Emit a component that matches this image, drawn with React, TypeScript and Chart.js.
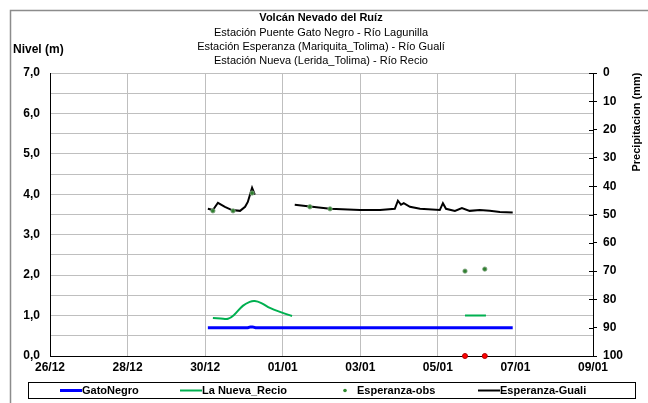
import React, { useEffect, useRef } from "react";
import { Chart, registerables } from "chart.js";

Chart.register(...registerables);

// x values are days counted from 26/12
const xTickLabels = ["26/12", "28/12", "30/12", "01/01", "03/01", "05/01", "07/01", "09/01"];

const gatoNegroX = [4.07, 4.6, 5.1, 5.17, 5.22, 5.3, 6, 7, 8, 9, 10, 11, 11.93];
const gatoNegroY = [0.7, 0.7, 0.7, 0.72, 0.72, 0.7, 0.7, 0.7, 0.7, 0.7, 0.7, 0.7, 0.7];

const nuevaX = [4.2, 4.4, 4.59, 4.75, 4.97, 5.15, 5.28, 5.45, 5.67, 5.93, 6.24, 8.5, 10.7, 11.24];
const nuevaY = [0.94, 0.93, 0.92, 1.02, 1.24, 1.34, 1.36, 1.31, 1.19, 1.09, 0.99, null, 1.0, 1.0];

const obsX = [4.2, 4.72, 5.21, 6.7, 7.22, 10.7, 11.21];
const obsY = [3.59, 3.59, 4.03, 3.69, 3.64, 2.1, 2.15];

const gualiX = [
  4.07, 4.2, 4.33, 4.51, 4.69, 4.9, 5.03, 5.1, 5.21, 5.28, 5.8,
  6.31, 6.7, 7.22, 7.99, 8.51, 8.89, 8.97, 9.05, 9.12, 9.28, 9.54, 10.05, 10.13,
  10.21, 10.44, 10.62, 10.82, 11.08, 11.34, 11.6, 11.93,
];
const gualiY = [
  3.64, 3.61, 3.79, 3.69, 3.61, 3.59, 3.69, 3.81, 4.16, 3.99, null,
  3.74, 3.7, 3.64, 3.61, 3.61, 3.64, 3.84, 3.74, 3.78, 3.69, 3.64, 3.61, 3.78,
  3.64, 3.59, 3.66, 3.59, 3.61, 3.59, 3.56, 3.55,
];

const precipX = [10.7, 11.21];
const precipY = [100, 100];

const titleLines = [
  "Volcán Nevado del Ruíz",
  "Estación Puente Gato Negro - Río Lagunilla",
  "Estación Esperanza (Mariquita_Tolima) - Río Gualí",
  "Estación Nueva (Lerida_Tolima) - Río Recio",
];
const leftTitle = "Nivel (m)";
const rightTitle = "Precipitacion (mm)";
const legendItems = [
  { label: "GatoNegro", color: "#0000ff", kind: "line", x: 60 },
  { label: "La Nueva_Recio", color: "#00b050", kind: "line", x: 180 },
  { label: "Esperanza-obs", color: "#2f8a2f", kind: "dot", x: 337 },
  { label: "Esperanza-Guali", color: "#000000", kind: "line", x: 478 },
];

const FONT = "'Liberation Sans', Arial, sans-serif";

const pts = (xs: number[], ys: (number | null)[]) => xs.map((x, i) => ({ x, y: ys[i] }));

const decor = {
  id: "decor",
  beforeDraw(chart: any) {
    const ctx = chart.ctx;
    ctx.save();
    ctx.fillStyle = "#ffffff";
    ctx.fillRect(0, 0, chart.width, chart.height);
    ctx.restore();
  },
  afterDraw(chart: any) {
    const ctx = chart.ctx;
    const area = chart.chartArea;
    ctx.save();
    // outer border
    ctx.strokeStyle = "#8c8c8c";
    ctx.lineWidth = 1.5;
    ctx.beginPath();
    ctx.moveTo(10.5, chart.height + 2);
    ctx.lineTo(10.5, 10.5);
    ctx.lineTo(chart.width + 2, 10.5);
    ctx.stroke();

    // titles
    ctx.fillStyle = "#000";
    ctx.textAlign = "center";
    ctx.textBaseline = "middle";
    const cx = 321;
    const ys = [18, 33, 47, 61];
    titleLines.forEach((t, i) => {
      ctx.font = (i === 0 ? "bold " : "") + "11px " + FONT;
      ctx.fillText(t, cx, ys[i]);
    });

    ctx.font = "bold 12px " + FONT;
    ctx.textAlign = "left";
    ctx.fillText(leftTitle, 13, 50);

    ctx.save();
    ctx.font = "bold 11px " + FONT;
    ctx.translate(637, 122);
    ctx.rotate(-Math.PI / 2);
    ctx.textAlign = "center";
    ctx.fillText(rightTitle, 0, 0);
    ctx.restore();

    // inward tick marks on the right axis
    const y1 = chart.scales.y1;
    ctx.strokeStyle = "#000";
    ctx.lineWidth = 1;
    y1.ticks.forEach((t: any) => {
      const py = Math.round(y1.getPixelForValue(t.value)) + 0.5;
      ctx.beginPath();
      ctx.moveTo(area.right - 4, py);
      ctx.lineTo(area.right, py);
      ctx.stroke();
    });

    // legend
    ctx.strokeStyle = "#000";
    ctx.lineWidth = 1;
    ctx.strokeRect(28.5, 382.5, 607, 16);
    const ly = 390.5;
    ctx.font = "bold 11px " + FONT;
    ctx.textBaseline = "middle";
    ctx.textAlign = "left";
    legendItems.forEach((it) => {
      if (it.kind === "line") {
        ctx.strokeStyle = it.color;
        ctx.lineWidth = it.label === "GatoNegro" ? 3 : 2;
        ctx.beginPath();
        ctx.moveTo(it.x, ly);
        ctx.lineTo(it.x + 22, ly);
        ctx.stroke();
        ctx.fillStyle = "#000";
        ctx.fillText(it.label, it.x + 22, ly);
      } else {
        ctx.fillStyle = it.color;
        ctx.beginPath();
        ctx.arc(it.x + 8, ly, 1.8, 0, Math.PI * 2);
        ctx.fill();
        ctx.fillStyle = "#000";
        ctx.fillText(it.label, it.x + 20, ly);
      }
    });
    ctx.restore();
  },
};

export default function App() {
  const ref = useRef<HTMLCanvasElement | null>(null);
  useEffect(() => {
    if (!ref.current) return;
    const tickFont = { family: FONT, size: 12, weight: "bold" as const };
    const chart = new Chart(ref.current, {
      type: "line",
      data: {
        datasets: [
          {
            label: "GatoNegro",
            data: pts(gatoNegroX, gatoNegroY),
            borderColor: "#0000ff",
            borderWidth: 3,
            pointRadius: 0,
            yAxisID: "y",
          },
          {
            label: "La Nueva_Recio",
            data: pts(nuevaX, nuevaY),
            borderColor: "#00b050",
            borderWidth: 2,
            pointRadius: 0,
            tension: 0.35,
            spanGaps: false,
            yAxisID: "y",
          },
          {
            label: "Esperanza-obs",
            data: pts(obsX, obsY),
            showLine: false,
            pointRadius: 2.2,
            pointBackgroundColor: "#2f7f2f",
            pointBorderColor: "#8aa88a",
            pointBorderWidth: 0.8,
            yAxisID: "y",
          },
          {
            label: "Esperanza-Guali",
            data: pts(gualiX, gualiY),
            borderColor: "#000000",
            borderWidth: 2,
            pointRadius: 0,
            spanGaps: false,
            yAxisID: "y",
          },
          {
            label: "Precipitacion",
            data: pts(precipX, precipY),
            showLine: false,
            pointRadius: 2.5,
            pointBackgroundColor: "#ff0000",
            pointBorderColor: "#b00000",
            pointBorderWidth: 1,
            clip: false as any,
            yAxisID: "y1",
          },
        ],
      },
      options: {
        animation: false,
        responsive: false,
        devicePixelRatio: 1,
        layout: { padding: { left: 10, right: 0, top: 73, bottom: 0 } },
        plugins: { legend: { display: false }, title: { display: false }, tooltip: { enabled: false } },
        scales: {
          x: {
            type: "linear",
            min: 0,
            max: 14,
            afterFit: (s: any) => {
              s.height = 47;
            },
            ticks: {
              stepSize: 2,
              autoSkip: false,
              maxRotation: 0,
              padding: 4,
              color: "#000",
              font: tickFont,
              callback: (v: any) => xTickLabels[Math.round(Number(v) / 2)] ?? "",
            },
            grid: { color: "#bfbfbf", lineWidth: 1, drawTicks: false },
            border: { display: true, color: "#000", width: 1 },
          },
          y: {
            position: "left",
            min: 0,
            max: 7,
            afterFit: (s: any) => {
              s.width = 40;
            },
            ticks: {
              stepSize: 0.5,
              autoSkip: false,
              padding: 10,
              color: "#000",
              font: tickFont,
              callback: (v: any) => {
                const n = Number(v);
                return Math.abs(n - Math.round(n)) < 1e-6 ? n.toFixed(1).replace(".", ",") : "";
              },
            },
            grid: { color: "#bfbfbf", lineWidth: 1, drawTicks: false },
            border: { display: true, color: "#000", width: 1 },
          },
          y1: {
            position: "right",
            min: 0,
            max: 100,
            reverse: true,
            afterFit: (s: any) => {
              s.width = 55;
            },
            ticks: {
              stepSize: 10,
              autoSkip: false,
              padding: 6,
              color: "#000",
              font: tickFont,
            },
            grid: { drawOnChartArea: false, drawTicks: true, tickLength: 4, color: "#000" },
            border: { display: true, color: "#000", width: 1 },
          },
        },
      },
      plugins: [decor],
    });
    return () => chart.destroy();
  }, []);
  return (
    <div style={{ position: "fixed", left: 0, top: 0, width: 648, height: 403 }}>
      <canvas ref={ref} width={648} height={403} style={{ width: 648, height: 403 }} />
    </div>
  );
}
